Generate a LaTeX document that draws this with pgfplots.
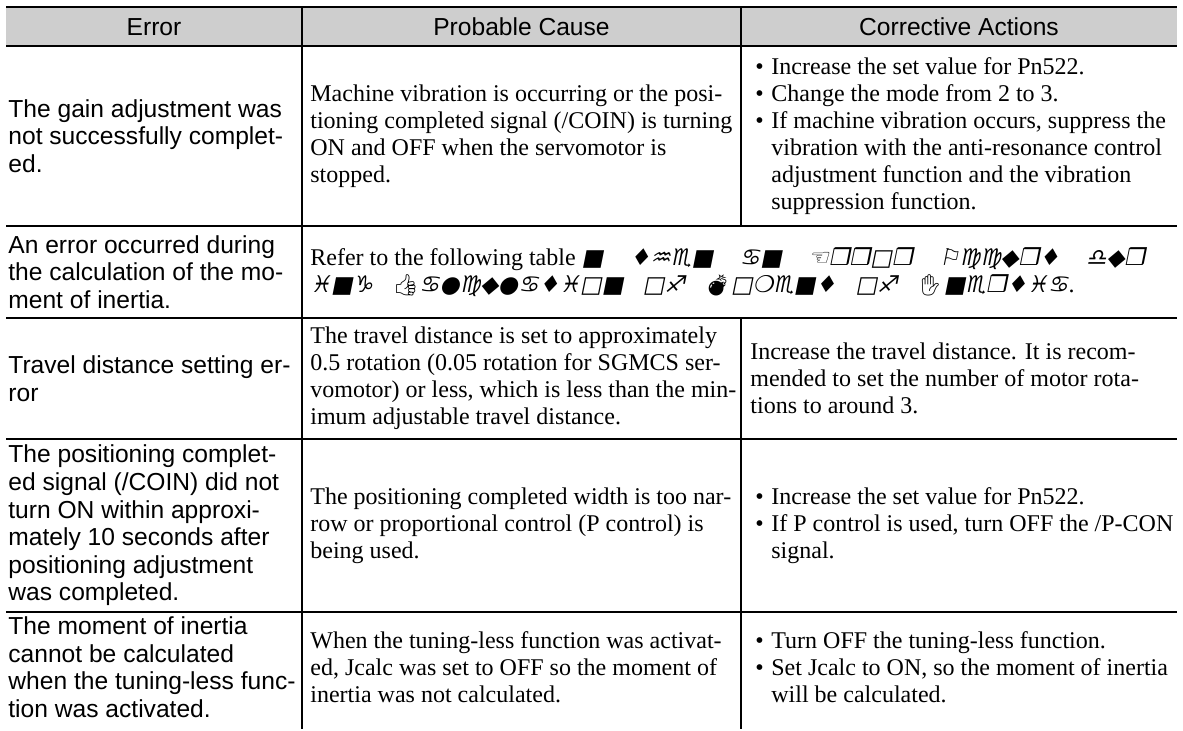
\documentclass[border=0pt]{standalone}
\usepackage{pgfplots}
\pgfplotsset{compat=1.18}
\usepackage{fontspec}
\setmainfont{Liberation Serif}
\newfontfamily\arial{Liberation Sans}
\newfontfamily\wing[FakeSlant=0.2]{DejaVu Sans}
\newfontfamily\emo{Noto Emoji}
\definecolor{hdr}{RGB}{206,206,206}
\newcommand{\sans}{\arial\fontsize{12.3}{13.8}\selectfont}
\newcommand{\ser}{\fontsize{12}{13.5}\selectfont}
\newcommand{\bul}{\hspace*{2.5pt}\makebox[8pt][l]{•}}
\newcommand{\ind}{\hspace*{10.5pt}}
\newcommand{\W}[1]{{\wing\fontsize{11.5}{13.5}\selectfont #1}}
\newcommand{\E}[1]{{\emo\fontsize{10.5}{13.5}\selectfont #1}}
\newcommand{\gap}{\hspace{1.1em}}
\newcommand{\gapb}{\hspace{0.8em}}
\begin{document}
\begin{tikzpicture}
\begin{axis}[
  width=591.5pt, height=364.5pt, scale only axis,
  xmin=0, xmax=1183, ymin=0, ymax=729, y dir=reverse,
  hide axis, clip=false,
]
\fill[white] (axis cs:0,0) rectangle (axis cs:1183,729);
\fill[hdr] (axis cs:6,7) rectangle (axis cs:1177,46);
% horizontal rules
\addplot[black, line width=1pt, forget plot] coordinates {(6,7) (1177,7)};
\addplot[black, line width=1pt, forget plot] coordinates {(6,46) (1177,46)};
\addplot[black, line width=1pt, forget plot] coordinates {(6,226) (1177,226)};
\addplot[black, line width=1pt, forget plot] coordinates {(6,318) (1177,318)};
\addplot[black, line width=1pt, forget plot] coordinates {(6,439) (1177,439)};
\addplot[black, line width=1pt, forget plot] coordinates {(6,612) (1177,612)};
% vertical rules
\addplot[black, line width=1pt, forget plot] coordinates {(302,7) (302,729)};
\addplot[black, line width=1pt, forget plot] coordinates {(741,7) (741,226)};
\addplot[black, line width=1pt, forget plot] coordinates {(741,318) (741,729)};

% header
\node[inner sep=0pt, font=\sans] at (axis cs:154,27) {Error};
\node[inner sep=0pt, font=\sans] at (axis cs:521.5,27) {Probable Cause};
\node[inner sep=0pt, font=\sans] at (axis cs:959,27) {Corrective Actions};

% row 1
\node[inner sep=0pt, anchor=west, align=left, font=\sans] at (axis cs:8,136)
 {The gain adjustment was\\not successfully complet-\\ed.};
\node[inner sep=0pt, anchor=west, align=left, font=\ser] at (axis cs:310,136)
 {Machine vibration is occurring or the posi-\\tioning completed signal (/COIN) is turning\\ON and OFF when the servomotor is\\stopped.};
\node[inner sep=0pt, anchor=west, align=left, font=\ser] at (axis cs:750,136)
 {\bul Increase the set value for Pn522.\\\bul Change the mode from 2 to 3.\\\bul If machine vibration occurs, suppress the\\\ind vibration with the anti-resonance control\\\ind adjustment function and the vibration\\\ind suppression function.};

% row 2
\node[inner sep=0pt, anchor=west, align=left, font=\sans] at (axis cs:8,272)
 {An error occurred during\\the calculation of the mo-\\ment of inertia.};
\node[inner sep=0pt, anchor=west, align=left, font=\ser] at (axis cs:310,272)
 {Refer to the following table \W{■}\gap\W{♦♒♏■}\gap\W{♋■}\gap\W{☜❒❒□❒}\gap\W{⚐♍♍◆❒♦}\gap\W{♎◆❒}\\
  \W{♓■♑}\gapb\E{👍}\W{♋●♍◆●♋♦♓□■}\gapb\W{□♐}\gapb\E{💣}\W{□❍♏■♦}\gapb\W{□♐}\gapb\E{✋}\W{■♏❒♦♓♋}.};

% row 3
\node[inner sep=0pt, anchor=west, align=left, font=\sans] at (axis cs:8,378.5)
 {Travel distance setting er-\\ror};
\node[inner sep=0pt, anchor=west, align=left, font=\ser] at (axis cs:310,378.5)
 {The travel distance is set to approximately\\0.5 rotation (0.05 rotation for SGMCS ser-\\vomotor) or less, which is less than the min-\\imum adjustable travel distance.};
\node[inner sep=0pt, anchor=west, align=left, font=\ser] at (axis cs:750,378.5)
 {Increase the travel distance. It is recom-\\mended to set the number of motor rota-\\tions to around 3.};

% row 4
\node[inner sep=0pt, anchor=west, align=left, font=\sans] at (axis cs:8,525.5)
 {The positioning complet-\\ed signal (/COIN) did not\\turn ON within approxi-\\mately 10 seconds after\\positioning adjustment\\was completed.};
\node[inner sep=0pt, anchor=west, align=left, font=\ser] at (axis cs:310,525.5)
 {The positioning completed width is too nar-\\row or proportional control (P control) is\\being used.};
\node[inner sep=0pt, anchor=west, align=left, font=\ser] at (axis cs:750,525.5)
 {\bul Increase the set value for Pn522.\\\bul If P control is used, turn OFF the /P-CON\\\ind signal.};

% row 5
\node[inner sep=0pt, anchor=west, align=left, font=\sans] at (axis cs:8,667)
 {The moment of inertia\\cannot be calculated\\when the tuning-less func-\\tion was activated.};
\node[inner sep=0pt, anchor=west, align=left, font=\ser] at (axis cs:310,667)
 {When the tuning-less function was activat-\\ed, Jcalc was set to OFF so the moment of\\inertia was not calculated.};
\node[inner sep=0pt, anchor=west, align=left, font=\ser] at (axis cs:750,667)
 {\bul Turn OFF the tuning-less function.\\\bul Set Jcalc to ON, so the moment of inertia\\\ind will be calculated.};
\end{axis}
\end{tikzpicture}
\end{document}
